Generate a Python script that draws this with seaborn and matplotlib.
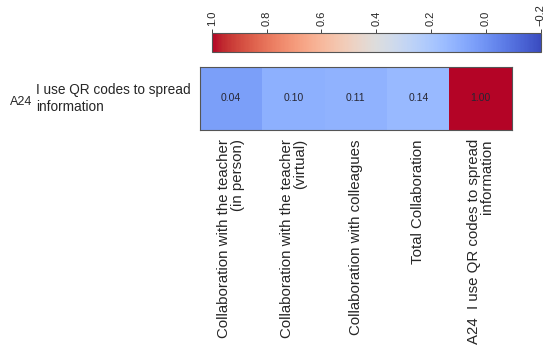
import numpy as np
import pandas as pd
import seaborn as sns
import matplotlib.pyplot as plt

# correlation of A24 with the collaboration scores
columns = ["Collaboration with the teacher\n(in person)",
           "Collaboration with the teacher\n(virtual)",
           "Collaboration with colleagues",
           "Total Collaboration",
           "A24  I use QR codes to spread\ninformation"]
row_code = "A24"
row_label = "I use QR codes to spread\ninformation"
values = [0.04, 0.10, 0.11, 0.14, 1.00]
cbar_ticks = [1.0, 0.8, 0.6, 0.4, 0.2, 0.0, -0.2]

df = pd.DataFrame([values], columns=columns, index=[row_label])

sns.set_style("white")
plt.rcParams['font.family'] = ['Liberation Sans', 'DejaVu Sans']

fig = plt.figure(figsize=(5.5, 3.52), dpi=100)
ax = fig.add_axes([0.3636, 0.6307, 0.567, 0.179])
cax = fig.add_axes([0.385, 0.852, 0.598, 0.054])

sns.heatmap(df, ax=ax, cmap="coolwarm", vmin=-0.2, vmax=1.0,
            annot=True, fmt=".2f",
            annot_kws={"size": 7.5, "color": "#262633"},
            cbar_ax=cax, cbar_kws={"orientation": "horizontal"})

# frame around the cells
for s in ax.spines.values():
    s.set_visible(True)
    s.set_color("#555555")
    s.set_linewidth(0.8)

ax.tick_params(axis="both", length=3, width=0.6, color="#777777")
ax.set_xticklabels(columns, rotation=90, ha="center", multialignment="right",
                   fontsize=10.8, linespacing=0.95)
ax.set_yticklabels([row_label], rotation=0, ha="right", va="center",
                   multialignment="left", fontsize=9.8, linespacing=1.3)

# row code to the left of the y tick label
fig.canvas.draw()
bb = ax.get_yticklabels()[0].get_window_extent()
x0 = fig.transFigure.inverted().transform((bb.x0 - 4, 0))[0]
fig.text(x0, ax.get_position().y0 + ax.get_position().height * 0.45, row_code,
         fontsize=9, ha="right", va="center")

# colorbar: reversed, ticks on top, rotated labels
cax.invert_xaxis()
cax.xaxis.set_ticks_position("top")
cax.set_xticks(cbar_ticks)
cax.set_xticklabels(["1.0", "0.8", "0.6", "0.4", "0.2", "0.0", "\u22120.2"],
                    rotation=90)
cax.tick_params(axis="x", labelsize=8, length=3, width=0.6, pad=2)
cbar = ax.collections[0].colorbar
cbar.outline.set_edgecolor("#555555")
cbar.outline.set_linewidth(0.8)

fig.savefig("out.png", dpi=100)
